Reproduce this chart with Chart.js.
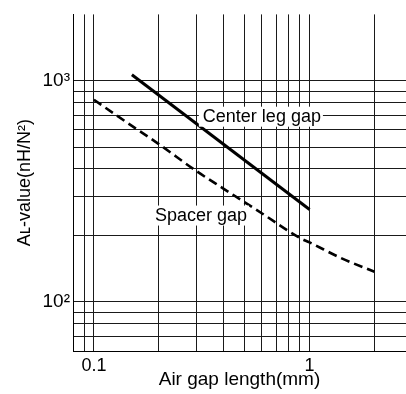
<!DOCTYPE html>
<html>
<head>
<meta charset="utf-8">
<script src="https://cdn.jsdelivr.net/npm/chart.js@4.4.0/dist/chart.umd.min.js"></script>
<style>
  html, body { margin: 0; padding: 0; background: #fff; }
  canvas { display: block; }
</style>
</head>
<body>
<canvas id="myChart" width="406" height="394"></canvas>
<script>
///////Datos de las curvas/////
let centerGapX = [0.15, 1];
let centerGapY = [1066, 262];

let spacerGapX = [0.1, 0.15, 0.2, 0.3, 0.4, 0.6, 0.9, 1, 1.4, 2];
let spacerGapY = [822, 626, 518, 390, 325, 252, 195, 186, 158, 137];

///////Lineas de la grilla y etiquetas/////
let xGrid = [0.09, 0.1, 0.2, 0.3, 0.4, 0.5, 0.6, 0.7, 0.8, 0.9, 1, 2];
let xLabelValues = [0.1, 1];
let xLabelText = ["0.1", "1"];

let yGrid = [70, 80, 90, 100, 200, 300, 400, 500, 600, 700, 800, 900, 1000];
let yLabelValues = [100, 1000];
let yLabelText = ["10²", "10³"];

let curveNames = ["Center leg gap", "Spacer gap"];
let curveNameX = [0.32, 0.192];
let curveNameY = [689, 246];

const fuente = "'Liberation Sans', Arial, Helvetica, sans-serif";

function etiqueta(valores, textos, v) {
  let i = valores.findIndex((x) => Math.abs(x - v) < 1e-9);
  return i >= 0 ? textos[i] : "";
}

function crearData() {
  let datasets = [
    {
      label: curveNames[0],
      data: centerGapX.map((x, i) => ({ x: x, y: centerGapY[i] })),
      borderColor: "#000",
      borderWidth: 3,
      pointRadius: 0,
    },
    {
      label: curveNames[1],
      data: spacerGapX.map((x, i) => ({ x: x, y: spacerGapY[i] })),
      borderColor: "#000",
      borderWidth: 2.6,
      borderDash: [9, 5],
      cubicInterpolationMode: "monotone",
      pointRadius: 0,
    },
  ];
  return { datasets };
}

//////nombres de las curvas con fondo blanco
const nombresCurvas = {
  id: "nombresCurvas",
  afterDatasetsDraw(chart) {
    let ctx = chart.ctx;
    let sx = chart.scales.x;
    let sy = chart.scales.y;
    ctx.save();
    ctx.font = "18px " + fuente;
    ctx.textBaseline = "middle";
    ctx.textAlign = "left";
    curveNames.forEach((nombre, i) => {
      let px = sx.getPixelForValue(curveNameX[i]);
      let py = sy.getPixelForValue(curveNameY[i]);
      let w = ctx.measureText(nombre).width;
      ctx.fillStyle = "#fff";
      ctx.fillRect(px - 4, py - 10, w + 6, 20);
      ctx.fillStyle = "#000";
      ctx.fillText(nombre, px, py);
    });
    ctx.restore();
  },
};

function renderGrafica(renderData) {
  const config = {
    type: "line",
    data: renderData,
    options: {
      responsive: false,
      animation: false,
      devicePixelRatio: 1,
      layout: { padding: { top: 11, left: 0, right: 0, bottom: 0 } },
      plugins: {
        legend: { display: false },
        tooltip: { enabled: false },
      },
      scales: {
        x: {
          type: "logarithmic",
          min: 0.08,
          max: 2.8,
          afterBuildTicks: (scale) => {
            scale.ticks = xGrid.map((v) => ({ value: v }));
          },
          afterFit: (scale) => {
            scale.height = 43;
          },
          grid: { color: "#1a1a1a", lineWidth: 1, drawTicks: false },
          border: { display: true, color: "#000", width: 1 },
          ticks: {
            autoSkip: false,
            maxRotation: 0,
            padding: 4,
            color: "#000",
            font: { family: fuente, size: 18 },
            callback: (v) => etiqueta(xLabelValues, xLabelText, v),
          },
          title: {
            display: true,
            text: "Air gap length(mm)",
            color: "#000",
            font: { family: fuente, size: 19 },
            padding: { top: 0, bottom: 3 },
          },
        },
        y: {
          type: "logarithmic",
          min: 60,
          max: 2000,
          afterBuildTicks: (scale) => {
            scale.ticks = yGrid.map((v) => ({ value: v }));
          },
          afterFit: (scale) => {
            scale.width = 73;
          },
          grid: { color: "#1a1a1a", lineWidth: 1, drawTicks: false },
          border: { display: true, color: "#000", width: 1 },
          ticks: {
            autoSkip: false,
            padding: 3,
            color: "#000",
            font: { family: fuente, size: 19 },
            callback: (v) => etiqueta(yLabelValues, yLabelText, v),
          },
          title: {
            display: true,
            text: "Aʟ-value(nH/N²)",
            color: "#000",
            font: { family: fuente, size: 18 },
            padding: { top: 14, bottom: 0 },
          },
        },
      },
    },
    plugins: [nombresCurvas],
  };

  const ctx = document.getElementById("myChart");
  return new Chart(ctx, config);
}

let myChart = renderGrafica(crearData());
</script>
</body>
</html>
